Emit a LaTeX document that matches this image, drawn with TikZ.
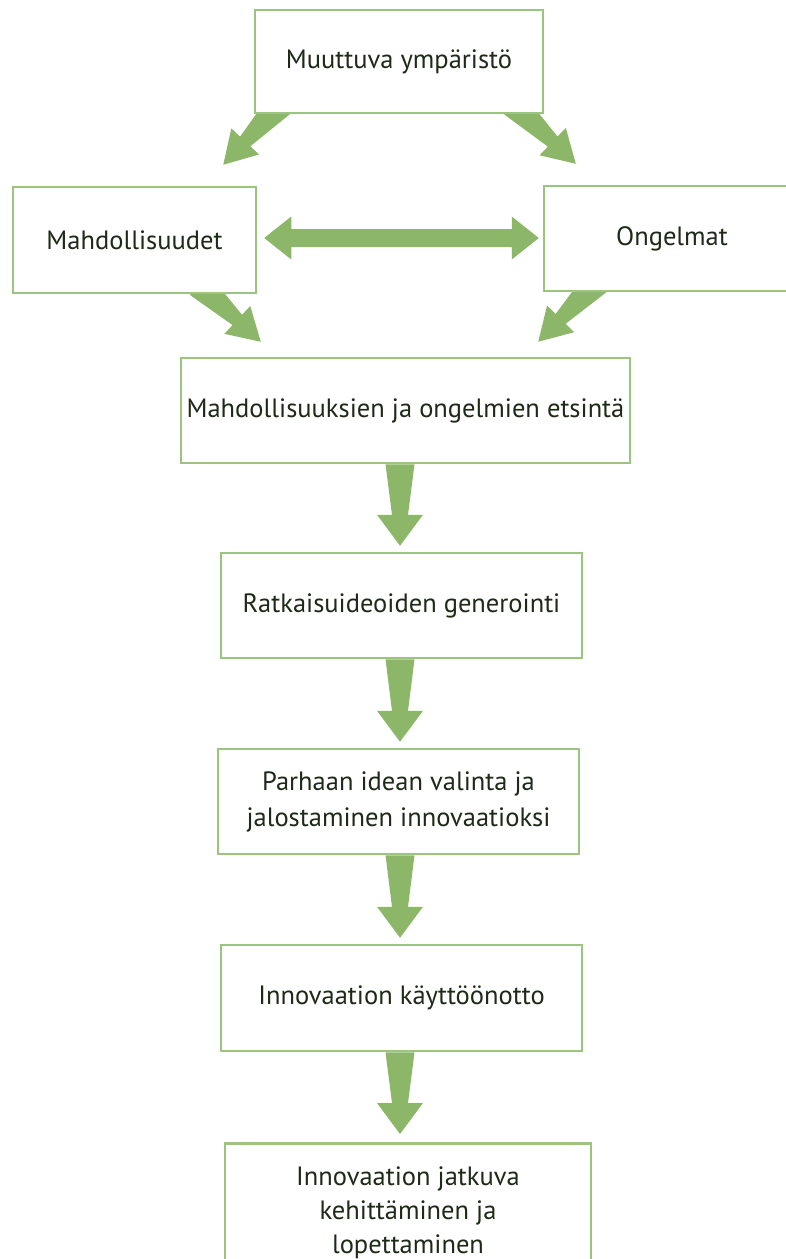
\documentclass[tikz,border=0pt]{standalone}
\usepackage{fontspec}
\setmainfont{PT Sans}
\usetikzlibrary{calc}
\pgfdeclarelayer{background}
\pgfsetlayers{background,main}
\definecolor{boxline}{RGB}{155,196,128}
\definecolor{arrowgreen}{RGB}{140,182,104}
\definecolor{txt}{RGB}{30,42,24}
\tikzset{
  flowbox/.style={draw=boxline, line width=2.5pt, fill=white, text=txt,
    font=\fontsize{26.5}{36}\selectfont, align=center, inner sep=0pt},
  arrowfill/.style={fill=arrowgreen, draw=none}
}
% tapered arrow: start, tip, base half, neck half, head half, head length
\newcommand{\fatarr}[6]{%
  \coordinate (fanck) at ($(#2)!#6!(#1)$);
  \fill[arrowfill] ($(#1)!#3!90:(#2)$) -- ($(fanck)!#4!-90:(#1)$)
    -- ($(fanck)!#5!-90:(#1)$) -- (#2) -- ($(fanck)!#5!90:(#1)$)
    -- ($(fanck)!#4!90:(#1)$) -- ($(#1)!#3!-90:(#2)$) -- cycle;
}
% double-headed arrow: tip A, tip B, shaft half, head half, head length
\newcommand{\dblarr}[5]{%
  \coordinate (dbna) at ($(#1)!#5!(#2)$);
  \coordinate (dbnb) at ($(#2)!#5!(#1)$);
  \fill[arrowfill] (#1) -- ($(dbna)!#4!90:(#2)$) -- ($(dbna)!#3!90:(#2)$)
    -- ($(dbnb)!#3!-90:(#1)$) -- ($(dbnb)!#4!-90:(#1)$) -- (#2)
    -- ($(dbnb)!#4!90:(#1)$) -- ($(dbnb)!#3!90:(#1)$)
    -- ($(dbna)!#3!-90:(#2)$) -- ($(dbna)!#4!-90:(#2)$) -- cycle;
}
\begin{document}
\begin{tikzpicture}[x=1pt,y=-1pt]
\useasboundingbox (0,0) rectangle (786,1259);
\clip (0,0) rectangle (786,1259);

\node[flowbox, minimum width=288, minimum height=103] (env) at (399,61.5) {Muuttuva ympäristö};
\node[flowbox, minimum width=243, minimum height=106] (mahd) at (134.5,240) {Mahdollisuudet};
\node[flowbox, minimum width=256, minimum height=105] (ong) at (672,238.5) {Ongelmat};
\node[flowbox, minimum width=449, minimum height=105] (etsi) at (405.5,410.5) {Mahdollisuuksien ja ongelmien etsintä};
\node[flowbox, minimum width=361, minimum height=105] (ratk) at (401.5,605.5) {Ratkaisuideoiden generointi};
\node[flowbox, minimum width=361, minimum height=105] (parh) at (398.5,801.5) {Parhaan idean valinta ja\\jalostaminen innovaatioksi};
\node[flowbox, minimum width=361, minimum height=106] (kayt) at (401.5,998) {Innovaation käyttöönotto};
\node[flowbox, font=\fontsize{26.5}{34}\selectfont, minimum width=366, minimum height=140, anchor=north, inner ysep=15pt] (jatk) at (408,1142) {Innovaation jatkuva\\kehittäminen ja\\lopettaminen};

% connector end points
\coordinate (tlS) at ($(env.south west)+(17,0)$);
\coordinate (tlE) at ($(mahd.north east)+(-34,-21)$);
\coordinate (trS) at ($(env.south east)+(-20,0)$);
\coordinate (trE) at ($(ong.north west)+(33,-21)$);
\coordinate (blS) at ($(mahd.south west)+(198,0)$);
\coordinate (blE) at ($(etsi.north west)+(81,-15)$);
\coordinate (brS) at ($(ong.south west)+(44,0)$);
\coordinate (brE) at ($(etsi.north east)+(-93,-15)$);
\coordinate (hA) at ($(mahd.east)+(7,-2)$);
\coordinate (hB) at ($(ong.west)+(-4,-0.5)$);
\coordinate (d1S) at (etsi.south -| 400,0);
\coordinate (d1E) at ($(ratk.north -| 400,0)+(0,-6)$);
\coordinate (d2S) at (ratk.south -| 400,0);
\coordinate (d2E) at ($(parh.north -| 400,0)+(0,-6)$);
\coordinate (d3S) at (parh.south -| 400,0);
\coordinate (d3E) at ($(kayt.north -| 400,0)+(0,-6)$);
\coordinate (d4S) at (kayt.south -| 400,0);
\coordinate (d4E) at ($(jatk.north -| 400,0)+(0,-8)$);

\begin{pgfonlayer}{background}
  \fill[white] (0,0) rectangle (786,1259);
  \coordinate (tlS2) at ($(tlE)!1.2!(tlS)$);
  \coordinate (trS2) at ($(trE)!1.2!(trS)$);
  \coordinate (blS2) at ($(blE)!1.2!(blS)$);
  \coordinate (brS2) at ($(brE)!1.2!(brS)$);
  \fatarr{tlS2}{tlE}{14pt}{7pt}{19pt}{32pt}
  \fatarr{trS2}{trE}{14pt}{7pt}{19pt}{32pt}
  \fatarr{blS2}{blE}{14pt}{7pt}{19pt}{32pt}
  \fatarr{brS2}{brE}{14pt}{7pt}{19pt}{32pt}
  \dblarr{hA}{hB}{9pt}{21.5pt}{27pt}
  \fatarr{d1S}{d1E}{14.5pt}{8pt}{23pt}{31pt}
  \fatarr{d2S}{d2E}{14.5pt}{8pt}{23pt}{31pt}
  \fatarr{d3S}{d3E}{14.5pt}{8pt}{23pt}{31pt}
  \fatarr{d4S}{d4E}{14.5pt}{8pt}{23pt}{31pt}
\end{pgfonlayer}
\end{tikzpicture}
\end{document}
